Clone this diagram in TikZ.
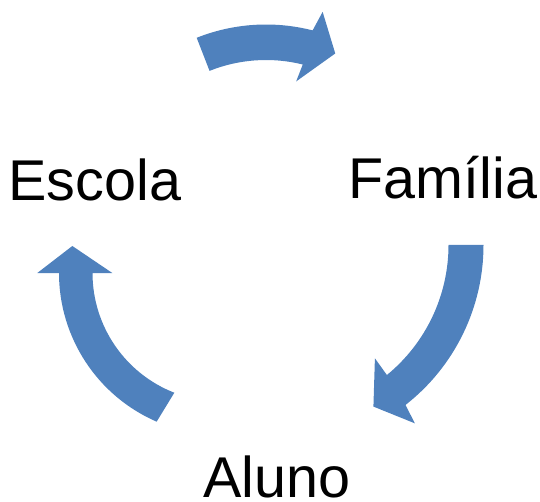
\documentclass[tikz,border=0pt]{standalone}
\usepackage{fontspec}
\setmainfont{Liberation Sans}
\usepackage{tikz}
\definecolor{cycleblue}{RGB}{79,129,189}

\begin{document}
\begin{tikzpicture}[x=1pt,y=1pt,
    cyclearrow/.style={fill=cycleblue,draw=none},
    stage/.style={anchor=base west,inner sep=0pt,outer sep=0pt,font=\fontsize{57.5}{70}\selectfont}]
            \useasboundingbox (0,0) rectangle (540,501);

            \coordinate (T) at (266,289);
            \coordinate (R) at (280.5,256);
            \coordinate (L) at (221,228);

            \node[stage] (escola) at (8.5,300) {Escola};
            \node[stage] (familia) at (348.5,302.5) {Família};
            \node[stage] (aluno) at (203,3.5) {Aluno};

            \fill[cyclearrow,shift={(T)}] (111.7:187.5) arc[start angle=111.7,end angle=75.6,radius=187.5]
                -- (74.2:208) -- (66.4:173) -- (77:134) -- (76:152)
                arc[start angle=76,end angle=111.8,radius=152] -- cycle;
            \fill[cyclearrow,shift={(R)}] (0:203) arc[start angle=0,end angle=-52,radius=203]
                -- (-53:223.3) -- (-60.1:186.4) -- (-50.2:147.5) -- (-50.7:168)
                arc[start angle=-50.7,end angle=0,radius=168] -- cycle;
            \fill[cyclearrow,shift={(L)}] (246.6:162) arc[start angle=246.6,end angle=180,radius=162]
                -- (180:183.7) -- (169.7:151.1) -- (180:108.7) -- (180:128.5)
                arc[start angle=180,end angle=248.7,radius=128.5] -- cycle;
        \end{tikzpicture}
\end{document}
